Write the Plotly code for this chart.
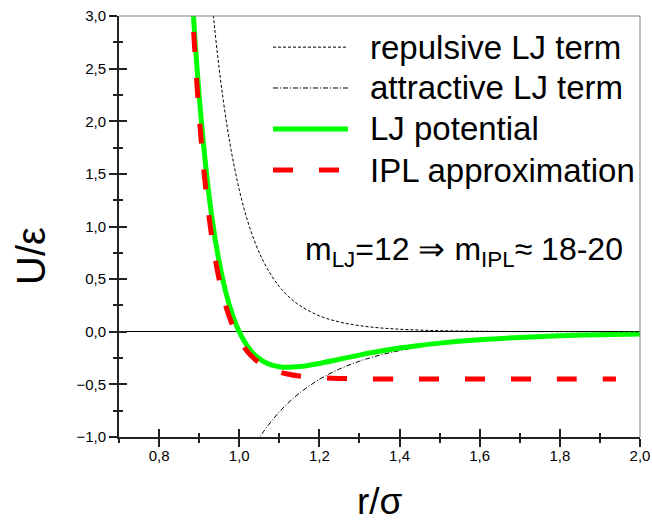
import plotly.graph_objects as go

# Reduced distance r/sigma and reduced energies U/epsilon
r_lj = [0.87, 0.88, 0.89, 0.90, 0.91, 0.92, 0.93, 0.94, 0.95, 0.96, 0.97, 0.98, 0.99,
        1.00, 1.01, 1.02, 1.03, 1.04, 1.06, 1.08, 1.10, 1.12, 1.15, 1.20, 1.25, 1.30,
        1.35, 1.40, 1.45, 1.50, 1.60, 1.70, 1.80, 1.90, 2.00]
u_lj = [4.066, 3.352, 2.750, 2.240, 1.809, 1.445, 1.138, 0.880, 0.662, 0.479, 0.325, 0.196, 0.089,
        0.000, -0.074, -0.134, -0.184, -0.224, -0.281, -0.315, -0.332, -0.338, -0.331, -0.301, -0.261, -0.222,
        -0.186, -0.155, -0.130, -0.108, -0.076, -0.054, -0.039, -0.028, -0.021]

r_rep = [0.92, 0.93, 0.94, 0.95, 0.96, 0.97, 0.98, 1.00, 1.02, 1.04, 1.06, 1.08, 1.10, 1.12,
         1.15, 1.20, 1.25, 1.30, 1.35, 1.40, 1.45, 1.50, 1.60, 1.70, 1.80, 1.90, 2.00]
u_rep = [3.672, 3.225, 2.837, 2.498, 2.203, 1.946, 1.720, 1.350, 1.064, 0.843, 0.671, 0.536, 0.430, 0.346,
         0.252, 0.151, 0.093, 0.058, 0.037, 0.024, 0.016, 0.010, 0.005, 0.002, 0.001, 0.001, 0.000]

r_att = [1.03, 1.04, 1.06, 1.08, 1.10, 1.12, 1.15, 1.20, 1.25, 1.30, 1.35, 1.40, 1.45, 1.50,
         1.60, 1.70, 1.80, 1.90, 2.00]
u_att = [-1.131, -1.067, -0.952, -0.851, -0.762, -0.684, -0.584, -0.452, -0.354, -0.280, -0.223, -0.179, -0.145, -0.119,
         -0.080, -0.056, -0.040, -0.029, -0.021]

r_ipl = [0.87, 0.88, 0.89, 0.90, 0.91, 0.92, 0.93, 0.94, 0.95, 0.96, 0.97, 0.98, 0.99,
         1.00, 1.02, 1.04, 1.06, 1.08, 1.10, 1.12, 1.15, 1.20, 1.25, 1.30, 1.40, 1.50,
         1.60, 1.70, 1.80, 1.94]
u_ipl = [4.160, 3.300, 2.613, 2.055, 1.603, 1.237, 0.938, 0.695, 0.497, 0.334, 0.201, 0.091, 0.001,
         -0.074, -0.187, -0.264, -0.318, -0.356, -0.382, -0.401, -0.420, -0.436, -0.443, -0.447, -0.449, -0.450,
         -0.450, -0.450, -0.450, -0.450]

legend_labels = ["repulsive LJ term", "attractive LJ term", "LJ potential", "IPL approximation"]
x_title = "r/σ"
y_title = "U/ε"
note_text = "m<sub>LJ</sub>=12 ⇒ m<sub>IPL</sub>≈ 18-20"

FONT = "Liberation Sans, Arial, sans-serif"
styles = [
    dict(color="black", width=1, dash="3px,2px"),
    dict(color="black", width=1, dash="5px,2px,1px,2px"),
    dict(color="#00FF00", width=5, dash="solid"),
    dict(color="#FF0000", width=5, dash="20px,26px"),
]

fig = go.Figure()
fig.add_trace(go.Scatter(x=r_rep, y=u_rep, mode="lines", line=dict(shape="spline", **styles[0]),
                         xaxis="x2", yaxis="y2", showlegend=False))
fig.add_trace(go.Scatter(x=r_att, y=u_att, mode="lines", line=dict(shape="spline", **styles[1]),
                         showlegend=False))
fig.add_trace(go.Scatter(x=r_lj, y=u_lj, mode="lines", line=dict(shape="spline", **styles[2]),
                         showlegend=False))
fig.add_trace(go.Scatter(x=r_ipl, y=u_ipl, mode="lines", line=dict(shape="spline", **styles[3]),
                         showlegend=False))

tickfont = dict(family=FONT, size=15, color="black")
axis_common = dict(showgrid=False, tickwidth=2, tickcolor="#222", ticklen=8, automargin=False)

fig.update_layout(
    width=652, height=522,
    margin=dict(l=119, r=12, t=16, b=85, autoexpand=False),
    paper_bgcolor="white", plot_bgcolor="white",
    separators=", ",
    showlegend=False,
    xaxis=dict(range=[0.7, 2.0], dtick=0.2, tick0=0.8, tickformat=".1f", ticks="outside",
               showline=True, linewidth=2, linecolor="#222", zeroline=False, tickfont=tickfont,
               ticklabelstandoff=-4,
               minor=dict(ticks="outside", dtick=0.1, tick0=0.7, ticklen=4, tickwidth=2, tickcolor="#222"),
               **axis_common),
    yaxis=dict(range=[-1.0, 3.0], dtick=0.5, tick0=0, tickformat=".1f", ticks="outside",
               showline=True, linewidth=2, linecolor="#222", zeroline=True, zerolinecolor="black",
               zerolinewidth=1, tickfont=tickfont,
               minor=dict(ticks="outside", dtick=0.25, ticklen=4, tickwidth=2, tickcolor="#222"),
               **axis_common),
    xaxis2=dict(range=[0.7, 2.0], dtick=0.2, tick0=0.8, ticks="inside", overlaying="x", anchor="y2",
                side="bottom", showticklabels=False, showline=False, zeroline=False,
                minor=dict(ticks="inside", dtick=0.1, tick0=0.7, ticklen=4, tickwidth=2, tickcolor="#222"),
                **axis_common),
    yaxis2=dict(range=[-1.0, 3.0], dtick=0.5, tick0=0, ticks="inside", overlaying="y", anchor="x2",
                side="left", showticklabels=False, showline=False, zeroline=False,
                minor=dict(ticks="inside", dtick=0.25, ticklen=4, tickwidth=2, tickcolor="#222"),
                **axis_common),
)

# thin frame on the top and right sides
fig.add_shape(type="line", xref="paper", yref="paper", x0=0, x1=1, y0=1, y1=1,
              line=dict(color="#808080", width=1))
fig.add_shape(type="line", xref="paper", yref="paper", x0=1, x1=1, y0=0, y1=1,
              line=dict(color="#808080", width=1))

# legend keys and labels
row_y = [0.926, 0.829, 0.7316, 0.6342]
for label, st, yy in zip(legend_labels, styles, row_y):
    fig.add_shape(type="line", xref="paper", yref="paper", x0=0.2956, x1=0.4395, y0=yy, y1=yy,
                  line=st)
    fig.add_annotation(xref="paper", yref="paper", x=0.478, y=yy, text=label, showarrow=False,
                       xanchor="left", yanchor="middle", font=dict(family=FONT, size=33, color="black"))

fig.add_annotation(xref="paper", yref="paper", x=0.353, y=0.44, text=note_text, showarrow=False,
                   xanchor="left", yanchor="middle", font=dict(family=FONT, size=32, color="black"))

# axis titles
fig.add_annotation(xref="paper", yref="paper", x=-0.169, y=0.43, text=y_title, showarrow=False,
                   textangle=-90, xanchor="center", yanchor="middle",
                   font=dict(family=FONT, size=40, color="black"))
fig.add_annotation(xref="paper", yref="paper", x=0.501, y=-0.153, text=x_title, showarrow=False,
                   xanchor="center", yanchor="middle", font=dict(family=FONT, size=37, color="black"))

fig.write_html("out.html")
